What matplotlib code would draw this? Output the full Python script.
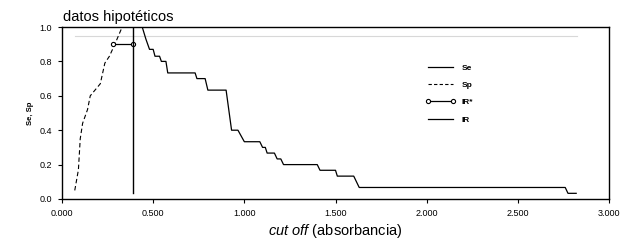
import matplotlib.pyplot as plt
from matplotlib.lines import Line2D

plt.rcParams['font.family'] = ['Liberation Sans', 'DejaVu Sans']
plt.rcParams['mathtext.fontset'] = 'custom'
plt.rcParams['mathtext.it'] = 'Liberation Sans:italic'
plt.rcParams['mathtext.rm'] = 'Liberation Sans'

# Sensitivity (Se) curve
se_x = [0.07, 0.44, 0.46, 0.48, 0.50, 0.51, 0.535, 0.545, 0.57, 0.58, 0.73, 0.74, 0.785,
        0.80, 0.90, 0.93, 0.965, 1.0, 1.085, 1.10, 1.115, 1.125, 1.165, 1.18, 1.20,
        1.215, 1.40, 1.415, 1.50, 1.51, 1.60, 1.63, 2.76, 2.775, 2.82]
se_y = [1.0, 1.0, 0.93, 0.87, 0.87, 0.83, 0.83, 0.80, 0.80, 0.733, 0.733, 0.70, 0.70,
        0.633, 0.633, 0.40, 0.40, 0.333, 0.333, 0.30, 0.30, 0.267, 0.267, 0.233, 0.233,
        0.20, 0.20, 0.167, 0.167, 0.133, 0.133, 0.067, 0.067, 0.033, 0.033]

# Specificity (Sp) curve
sp_x = [0.07, 0.09, 0.10, 0.113, 0.14, 0.155, 0.21, 0.235, 0.26, 0.29, 0.33]
sp_y = [0.05, 0.17, 0.35, 0.44, 0.52, 0.60, 0.67, 0.79, 0.83, 0.90, 1.0]

# reference interval
irs_x = [0.278, 0.388]
irs_y = [0.9, 0.9]
ir_x = [0.388, 0.388]
ir_y = [0.033, 1.0]

# light reference line
ref_x = [0.07, 2.825]
ref_y = [0.95, 0.95]

xticks = [0, 0.5, 1.0, 1.5, 2.0, 2.5, 3.0]
xtick_labels = ['0.000', '0.500', '1.000', '1.500', '2.000', '2.500', '3.000']
yticks = [0, 0.2, 0.4, 0.6, 0.8, 1.0]

fig = plt.figure(figsize=(6.29, 2.42), dpi=100)
ax = fig.add_axes([62/629, 1-199/242, 547/629, 172/242])

ax.plot(ref_x, ref_y, color='#d8d8d8', lw=0.8)
ax.plot(se_x, se_y, color='black', lw=0.9)
ax.plot(sp_x, sp_y, color='black', lw=0.8, ls=(0, (4, 2.5)))
ax.plot(irs_x, irs_y, color='black', lw=0.9, marker='o', ms=3, mfc='white', mec='black', mew=0.8)
ax.plot(ir_x, ir_y, color='black', lw=1.0)

ax.set_xlim(0, 3.0)
ax.set_ylim(0, 1.0)
ax.set_xticks(xticks)
ax.set_xticklabels(xtick_labels)
ax.set_yticks(yticks)
ax.set_yticklabels(['%.1f' % v for v in yticks])
ax.tick_params(labelsize=6.5, length=3, width=0.8, pad=4)
for s in ax.spines.values():
    s.set_linewidth(1.0)

ax.set_ylabel('Se, Sp', fontsize=5.5, fontweight='bold', labelpad=4)
ax.set_xlabel(r'$cut\ off$ (absorbancia)', fontsize=10.5, labelpad=3)
fig.text(63/629, 1-17/242, 'datos hipotéticos', fontsize=10.5, va='center', ha='left')

handles = [
    Line2D([], [], color='black', lw=0.9),
    Line2D([], [], color='black', lw=0.8, ls=(0, (3, 2))),
    Line2D([], [], color='black', lw=0.9, marker='o', ms=3, mfc='white', mec='black', mew=0.8),
    Line2D([], [], color='black', lw=0.9),
]
leg = ax.legend(handles, ['Se', 'Sp', 'IR*', 'IR'], loc='upper left',
                bbox_to_anchor=(0.65, 0.83), frameon=False, handlelength=3.6,
                numpoints=2, labelspacing=1.15, prop={'size': 6, 'weight': 'bold'})

fig.savefig('out.png', dpi=100)
